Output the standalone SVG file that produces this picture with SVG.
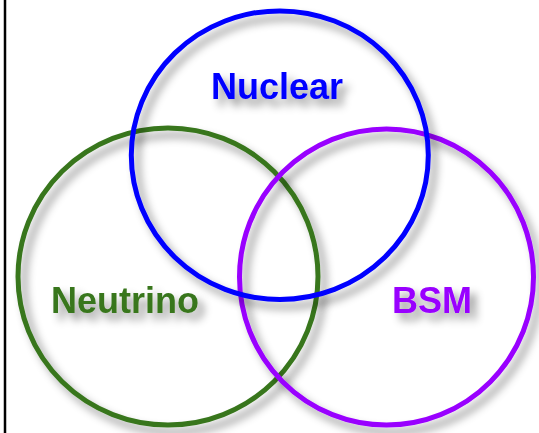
<svg xmlns="http://www.w3.org/2000/svg" width="539" height="433" viewBox="0 0 539 433">
  <defs>
    <filter id="shadow" x="-20%" y="-20%" width="140%" height="140%">
      <feDropShadow dx="6" dy="7" stdDeviation="4.5" flood-color="#000" flood-opacity="0.42"/>
    </filter>
  </defs>
  <style>
    .ring { fill: none; stroke-width: 5; filter: url(#shadow); }
    .label { font-family: "Liberation Sans", Arial, sans-serif; font-weight: bold; font-size: 36px; filter: url(#shadow); }
  </style>
  <rect x="0" y="0" width="539" height="433" fill="#fff"/>
  <line x1="5" y1="0" x2="5" y2="433" stroke="#000" stroke-width="2.5"/>
  <g id="neutrino">
    <ellipse class="ring" cx="168" cy="276.5" rx="150" ry="148.5" stroke="#38761d"/>
    <text class="label" x="51" y="313" fill="#38761d">Neutrino</text>
  </g>
  <g id="bsm">
    <ellipse class="ring" cx="386.5" cy="277" rx="147" ry="148" stroke="#9900ff"/>
    <text class="label" x="392" y="313" fill="#9900ff">BSM</text>
  </g>
  <g id="nuclear">
    <ellipse class="ring" cx="279.8" cy="155.2" rx="148.5" ry="144.3" stroke="#0000ff"/>
    <text class="label" x="211" y="99" fill="#0000ff">Nuclear</text>
  </g>
  <g id="connectors"/>
</svg>
